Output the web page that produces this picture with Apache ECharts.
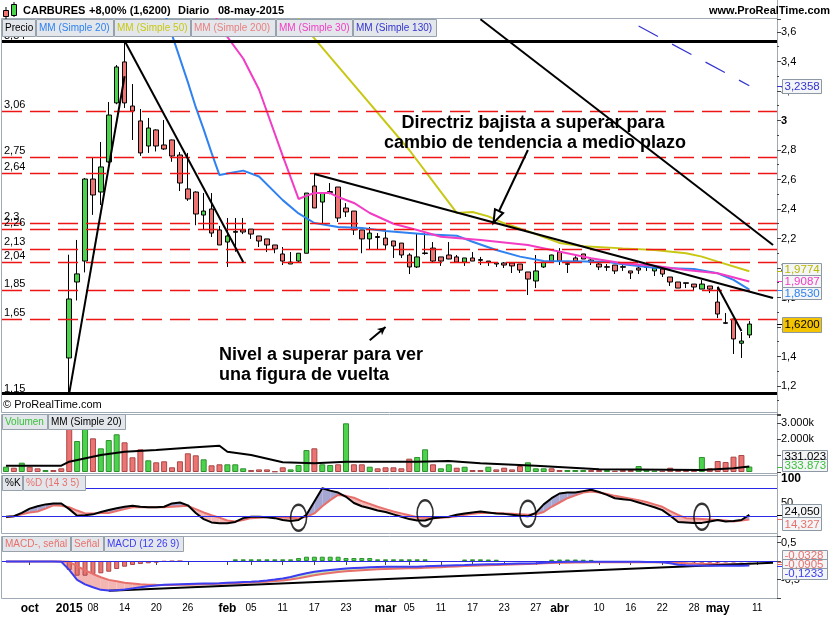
<!DOCTYPE html>
<html><head><meta charset="utf-8">
<script src="https://cdn.jsdelivr.net/npm/echarts@6.0.0/dist/echarts.min.js"></script>
<style>html,body{margin:0;padding:0;background:#fff;}#c{width:835px;height:620px;}</style>
</head><body><div id="c"></div>
<script>
// ---------------- DATA ----------------
const dates = ['2014-09-26','2014-09-29','2014-09-30','2014-10-01','2014-10-02','2014-10-03','2014-10-06','2014-10-07',
'2015-01-02','2015-01-05','2015-01-07','2015-01-08','2015-01-09','2015-01-12','2015-01-13','2015-01-14','2015-01-15','2015-01-16','2015-01-19','2015-01-20','2015-01-21','2015-01-22','2015-01-23','2015-01-26','2015-01-27','2015-01-28','2015-01-29','2015-01-30',
'2015-02-02','2015-02-03','2015-02-04','2015-02-05','2015-02-06','2015-02-09','2015-02-10','2015-02-11','2015-02-12','2015-02-13','2015-02-16','2015-02-17','2015-02-18','2015-02-19','2015-02-20','2015-02-23','2015-02-24','2015-02-25','2015-02-26','2015-02-27',
'2015-03-02','2015-03-03','2015-03-04','2015-03-05','2015-03-06','2015-03-09','2015-03-10','2015-03-11','2015-03-12','2015-03-13','2015-03-16','2015-03-17','2015-03-18','2015-03-19','2015-03-20','2015-03-23','2015-03-24','2015-03-25','2015-03-26','2015-03-27','2015-03-30','2015-03-31',
'2015-04-01','2015-04-02','2015-04-07','2015-04-08','2015-04-09','2015-04-10','2015-04-13','2015-04-14','2015-04-15','2015-04-16','2015-04-17','2015-04-20','2015-04-21','2015-04-22','2015-04-23','2015-04-24','2015-04-27','2015-04-28','2015-04-29','2015-04-30',
'2015-05-04','2015-05-05','2015-05-06','2015-05-07','2015-05-08','2015-05-11','2015-05-12','2015-05-13'];

const tickLabels = [['2014-10-01','oct',1],['2015-01-02','2015',1],['2015-01-08','08',0],['2015-01-14','14',0],['2015-01-20','20',0],['2015-01-26','26',0],
['2015-02-02','feb',1],['2015-02-05','05',0],['2015-02-11','11',0],['2015-02-17','17',0],['2015-02-23','23',0],
['2015-03-02','mar',1],['2015-03-05','05',0],['2015-03-11','11',0],['2015-03-17','17',0],['2015-03-23','23',0],['2015-03-27','27',0],
['2015-04-01','abr',1],['2015-04-10','10',0],['2015-04-16','16',0],['2015-04-22','22',0],['2015-04-28','28',0],['2015-05-04','may',1],['2015-05-11','11',0]];

// OHLC from 2015-01-02 to 2015-05-08: [open, close, low, high]
const ohlcStart = '2015-01-02';
const ohlc = [
[1.39,1.79,1.15,2.09],[1.905,1.96,1.78,2.19],[2.047,2.603,1.97,2.61],[2.603,2.495,2.36,2.746],[2.515,2.685,2.427,2.854],
[2.719,3.037,2.71,3.125],[3.119,3.363,3.11,3.376],[3.397,3.119,3.085,3.54],[3.098,3.064,2.868,3.247],[2.997,2.78,2.76,3.078],
[2.827,2.949,2.78,3.017],[2.936,2.827,2.79,2.94],[2.834,2.807,2.80,3.003],[2.868,2.759,2.72,2.87],[2.766,2.576,2.522,2.786],
[2.536,2.468,2.455,2.78],[2.515,2.366,2.29,2.52],[2.359,2.386,2.26,2.508],[2.40,2.237,2.21,2.508],[2.258,2.156,2.156,2.285],
[2.176,2.217,2.007,2.339],[2.248,2.242,2.11,2.339],[2.258,2.244,2.23,2.339],[2.264,2.23,2.197,2.264],[2.217,2.183,2.142,2.217],
[2.197,2.156,2.108,2.197],[2.156,2.129,2.10,2.156],[2.095,2.047,2.02,2.142],[2.027,2.04,2.027,2.108],[2.047,2.10,2.034,2.10],
[2.10,2.508,2.10,2.508],[2.556,2.407,2.407,2.644],[2.447,2.508,2.305,2.508],[2.518,2.512,2.50,2.576],[2.549,2.339,2.312,2.549],
[2.407,2.38,2.346,2.44],[2.386,2.258,2.224,2.386],[2.258,2.197,2.10,2.258],[2.197,2.237,2.122,2.278],[2.213,2.207,2.122,2.237],
[2.203,2.156,2.122,2.258],[2.183,2.149,2.068,2.183],[2.169,2.088,2.068,2.169],[2.088,2.007,1.959,2.10],[2.007,2.075,2.0,2.237],
[2.102,2.098,2.09,2.244],[2.135,2.047,2.04,2.176],[2.075,2.047,2.014,2.075],[2.088,2.061,2.06,2.176],[2.075,2.04,2.04,2.088],
[2.04,2.068,2.014,2.068],[2.068,2.047,2.047,2.108],[2.057,2.052,2.02,2.075],[2.047,2.04,2.014,2.047],[2.027,2.034,2.007,2.034],
[2.034,2.02,2.0,2.04],[2.034,2.014,1.966,2.034],[2.027,1.986,1.966,2.027],[1.973,1.925,1.817,1.973],[1.912,1.98,1.864,2.088],
[2.007,2.04,2.0,2.04],[2.047,2.088,2.047,2.09],[2.108,2.047,2.02,2.135],[2.029,2.025,1.966,2.047],[2.068,2.047,2.047,2.08],
[2.095,2.061,2.061,2.095],[2.054,2.04,2.02,2.06],[2.027,2.007,1.986,2.035],[2.009,2.005,1.98,2.027],[2.02,1.98,1.959,2.02],
[2.009,2.005,1.98,2.02],[1.98,1.966,1.925,1.98],[2.0,1.986,1.959,2.027],[2.009,2.005,1.98,2.02],[1.98,2.0,1.946,2.0],
[1.993,1.959,1.939,2.0],[1.939,1.905,1.878,1.939],[1.905,1.864,1.864,1.905],[1.90,1.896,1.864,1.90],[1.891,1.871,1.85,1.891],
[1.857,1.891,1.857,1.918],[1.878,1.857,1.83,1.878],[1.769,1.688,1.661,1.871],[1.629,1.625,1.62,1.695],[1.654,1.519,1.417,1.654],
[1.49,1.505,1.39,1.566],[1.546,1.62,1.525,1.64]];

const ma20 = [['2015-01-20',3.90],['2015-01-21',3.74],['2015-01-22',3.58],['2015-01-26',3.26],['2015-01-27',3.09],['2015-01-28',2.94],['2015-01-29',2.78],['2015-01-30',2.63],['2015-02-02',2.64],['2015-02-04',2.66],['2015-02-06',2.62],['2015-02-11',2.46],['2015-02-13',2.37],['2015-02-17',2.305],['2015-02-20',2.278],['2015-02-25',2.271],['2015-03-02',2.251],['2015-03-09',2.228],['2015-03-13',2.219],['2015-03-17',2.178],['2015-03-20',2.122],['2015-03-25',2.077],['2015-03-30',2.047],['2015-04-13',2.043],['2015-04-15',2.025],['2015-04-21',2.002],['2015-04-28',1.993],['2015-05-04',1.964],['2015-05-06',1.919],['2015-05-08',1.853]];
const ma30 = [['2015-01-29',3.78],['2015-01-30',3.64],['2015-02-04',3.42],['2015-02-06',3.21],['2015-02-11',2.76],['2015-02-13',2.468],['2015-02-16',2.49],['2015-02-17',2.508],['2015-02-19',2.508],['2015-02-20',2.481],['2015-02-24',2.441],['2015-02-26',2.373],['2015-03-03',2.30],['2015-03-06',2.258],['2015-03-11',2.212],['2015-03-18',2.19],['2015-03-26',2.156],['2015-03-31',2.122],['2015-04-09',2.066],['2015-04-15',2.032],['2015-04-21',2.016],['2015-04-27',1.986],['2015-05-04',1.964],['2015-05-08',1.9087]];
const ma50 = [['2015-02-13',3.69],['2015-02-16',3.62],['2015-02-24',3.241],['2015-03-05',2.80],['2015-03-13',2.373],['2015-03-17',2.38],['2015-03-19',2.35],['2015-03-23',2.303],['2015-03-26',2.25],['2015-03-30',2.21],['2015-04-01',2.17],['2015-04-08',2.148],['2015-04-15',2.133],['2015-04-21',2.122],['2015-04-27',2.10],['2015-04-29',2.077],['2015-05-04',2.043],['2015-05-08',1.9774]];
const ma130 = [['2015-04-17',3.64],['2015-05-08',3.2358]];

const volume = [323000,262000,567000,323000,225000,122000,122000,225000,
2665000,1890000,2665000,2055000,1445000,1950000,2300000,1810000,896000,1384000,
713000,591000,652000,286000,652000,1140000,1018000,774000,408000,469000,
469000,469000,225000,122000,160000,160000,40000,286000,160000,427000,
1340000,1445000,469000,427000,469000,2970000,469000,469000,323000,225000,
286000,286000,225000,813000,916000,1384000,469000,225000,469000,262000,
323000,122000,122000,323000,160000,262000,160000,365000,591000,225000,
225000,225000,122000,122000,122000,122000,122000,122000,122000,80000,
122000,122000,365000,160000,80000,80000,262000,122000,122000,122000,
916000,225000,670000,610000,935000,1037000,333873];
const volUp = [1,0,1,0,0,1,0,0, 0,1,1,0,1,1,1,0,0,0, 1,0,0,0,0,0,0,1,0,0, 1,1,1,0,0,0,0,0,1,1,
1,0,1,1,0,1,0,0,1,0, 0,0,0,0,1,1,0,1,1,0, 1,0,0,1,0,0,0,0,1,1, 1,0,0,1,1,1,0,0,1,0, 0,0,1,1,1,0,0,0,0,0, 1,0,0,0,0,0,1];
const volMa20 = [['2014-09-26',384000],['2014-10-07',384000],['2015-01-02',628000],['2015-01-09',1037000],['2015-01-14',1238000],['2015-01-20',1341000],['2015-01-26',1482000],['2015-01-30',1604000],['2015-02-02',1238000],['2015-02-05',1037000],['2015-02-11',591000],['2015-02-17',530000],['2015-02-23',628000],['2015-03-06',628000],['2015-03-12',670000],['2015-03-18',530000],['2015-03-27',384000],['2015-04-10',165000],['2015-04-29',122000],['2015-05-06',226000],['2015-05-08',331023]];

const stochK = [20,21,28,37,42,46,48,48, 36,22,23,25,30,34,38,41,43,41,40,40,41,48,50,44,28,15,8,6,6,9,17,20,20,19,17,13,11,13,24,52,80,75,71,62,49,42,38,33,30,25,20,15,12,12,17,19,20,24,27,29,31,29,27,26,24,22,21,28,46,59,69,71,71,74,77,72,66,59,57,55,50,45,40,34,22,9,8,7,7,10,13,10,11,13,24.05];
const stochD = [19,21,25,29,31,37,44,43, 40,33,27,27,28,28,32,36,40,40,40,40,40,41,42,43,36,29,23,18,12,10,13,17,18,19,19,19,18,17,20,27,42,55,66,64,60,53,47,41,36,31,27,23,19,18,17,18,19,21,24,26,28,28,28,27,26,25,24,25,30,41,50,59,65,71,73,71,68,64,61,58,55,51,46,41,32,24,17,16,15,14,13,12,10,12,14.327];
const stochCircles = [['2015-02-13',17.8],['2015-03-09',27.3],['2015-03-26',26.4],['2015-04-29',20.1]];

const macd = [-0.01,-0.01,-0.01,-0.01,-0.01,-0.01,-0.01,-0.02, -0.24,-0.51,-0.63,-0.71,-0.78,-0.80,-0.79,-0.77,-0.74,-0.71,-0.68,-0.66,-0.645,-0.635,-0.627,-0.62,-0.615,-0.61,-0.606,-0.60,-0.59,-0.58,-0.57,-0.56,-0.545,-0.525,-0.50,-0.47,-0.43,-0.38,-0.33,-0.29,-0.265,-0.24,-0.22,-0.20,-0.19,-0.18,-0.17,-0.16,-0.155,-0.154,-0.154,-0.154,-0.154,-0.145,-0.135,-0.127,-0.12,-0.113,-0.108,-0.10,-0.095,-0.09,-0.085,-0.08,-0.075,-0.07,-0.066,-0.062,-0.05,-0.035,-0.024,-0.019,-0.019,-0.019,-0.019,-0.019,-0.019,-0.019,-0.02,-0.021,-0.022,-0.026,-0.03,-0.034,-0.06,-0.10,-0.115,-0.12,-0.124,-0.127,-0.127,-0.127,-0.127,-0.126,-0.1233];
const signal = [-0.01,-0.01,-0.01,-0.01,-0.01,-0.01,-0.01,-0.01, -0.02,-0.14,-0.25,-0.35,-0.44,-0.51,-0.55,-0.59,-0.61,-0.63,-0.64,-0.645,-0.648,-0.647,-0.645,-0.64,-0.633,-0.626,-0.619,-0.612,-0.605,-0.598,-0.59,-0.58,-0.57,-0.558,-0.543,-0.525,-0.50,-0.465,-0.425,-0.385,-0.35,-0.325,-0.30,-0.28,-0.262,-0.247,-0.235,-0.225,-0.216,-0.21,-0.204,-0.198,-0.193,-0.185,-0.176,-0.166,-0.156,-0.146,-0.137,-0.128,-0.12,-0.113,-0.106,-0.099,-0.092,-0.085,-0.078,-0.071,-0.064,-0.057,-0.05,-0.045,-0.04,-0.037,-0.035,-0.034,-0.033,-0.033,-0.033,-0.033,-0.033,-0.033,-0.033,-0.034,-0.04,-0.05,-0.06,-0.068,-0.074,-0.079,-0.083,-0.086,-0.088,-0.089,-0.0905];
const macdHist = [null,null,null,null,null,null,null,null, -0.243,-0.397,-0.397,-0.352,-0.333,-0.29,-0.216,-0.154,-0.108,-0.082,-0.062,-0.047,-0.019,-0.01,-0.005,null,null,null,null,null,null,
0.046,0.046,0.046,0.046,0.046,0.046,0.046,0.046,0.08,0.116,0.116,0.116,0.116,0.116,0.081,0.081,0.081,0.081,0.046,0.046,0.046,0.046,0.046,0.046,0.046,
null,null,null,null,0.04,0.045,0.045,0.04,0.035,null,null,null,null,null,null,0.035,0.04,0.04,0.04,0.035,0.03,
null,null,null,null,null,null,null,null,null,null,null,-0.035,-0.04,-0.045,-0.045,-0.045,-0.04,-0.04,-0.035,-0.0328];

const levelsRed = [3.06, 2.75, 2.64, 2.3, 2.26, 2.13, 2.04, 1.85, 1.65];
const levelsBlack = [3.54, 1.15];
const trendLines = [['2015-01-02',1.15,'2015-01-14',3.30],['2015-01-14',3.54,'2015-02-04',2.04],['2015-02-17',2.637,'2015-05-13',1.797],['2015-03-18',3.686,'2015-05-13',2.156],['2015-05-04',1.873,'2015-05-07',1.573]];
const arrows = [['2015-03-26',2.80,'2015-03-20',2.346,'emptyTriangle',[9,13]],['2015-02-26',1.51,'2015-03-02',1.60,'arrow',[6,8]]];
const macdTrend = ['2015-01-12',-0.803,'2015-05-13',-0.046];

// ---------------- STYLE ----------------
const FONT = '"Liberation Sans", Arial, sans-serif';
const C = {green:'#4cd34c', red:'#ec7472', greenB:'#2f8f2f', redB:'#a84848', ma20:'#2f82f0', ma50:'#c8c814', ma30:'#f23cc4', ma130:'#3434d0', ma200:'#e88080', salmon:'#e8706c', blue:'#2828e6', macd:'#3c3cf0', border:'#a0aab4'};

const commaNum = v => String(Math.round(v*1000)/1000).replace('.', ',');
const thousands = v => String(Math.round(v)).replace(/\B(?=(\d{3})+(?!\d))/g, '.');
const labelMap = new Map(tickLabels.map(t => [t[0], t]));

const candleData = dates.map((d, i) => {
  const j = i - dates.indexOf(ohlcStart);
  return (j >= 0 && j < ohlc.length) ? ohlc[j] : '-';
});
const volData = volume.map((v, i) => ({value: v, itemStyle: {color: volUp[i] ? C.green : C.red, borderColor: volUp[i] ? C.greenB : C.redB, borderWidth: 1}}));
const histData = macdHist.map(v => v == null ? '-' : {value: v, itemStyle: {color: v >= 0 ? C.green : C.red, borderColor: v >= 0 ? C.greenB : C.redB, borderWidth: 1}});

const markData = [];
levelsRed.forEach(v => markData.push({yAxis: v, lineStyle: {color: '#ee1515', type: [20, 8], width: 1.3},
  label: {show: true, position: 'insideStartTop', formatter: commaNum(v), color: '#000', fontSize: 11, fontFamily: FONT, distance: [2, 1]}}));
levelsBlack.forEach(v => markData.push({yAxis: v, lineStyle: {color: '#000', type: 'solid', width: 3},
  label: {show: true, position: 'insideStartTop', formatter: commaNum(v), color: '#000', fontSize: 11, fontFamily: FONT, distance: [2, -1]}}));
trendLines.forEach(t => markData.push([
  {coord: [t[0], t[1]], lineStyle: {color: '#000', width: 2, type: 'solid'}, label: {show: false}},
  {coord: [t[2], t[3]], lineStyle: {color: '#000', width: 2, type: 'solid'}, label: {show: false}}]));
arrows.forEach(a => markData.push([
  {coord: [a[0], a[1]], symbol: 'none', lineStyle: {color: '#000', width: 2, type: 'solid'}, label: {show: false}},
  {coord: [a[2], a[3]], symbol: a[4], symbolSize: a[5], lineStyle: {color: '#000', width: 2, type: 'solid'}, label: {show: false}}]));

function fillBetween(xi, yi, a, b, posColor, negColor) {
  const idx = [];
  for (let i = 0; i < a.length - 1; i++) if (a[i] != null && b[i] != null && a[i+1] != null && b[i+1] != null) idx.push([i, a[i]]);
  return {
    type: 'custom', xAxisIndex: xi, yAxisIndex: yi, silent: true, z: 1, clip: true,
    encode: {x: 0, y: 1}, data: idx,
    renderItem(params, api) {
      const i = api.value(0);
      const A0 = api.coord([i, a[i]]), A1 = api.coord([i+1, a[i+1]]);
      const B0 = api.coord([i, b[i]]), B1 = api.coord([i+1, b[i+1]]);
      const d0 = a[i] - b[i], d1 = a[i+1] - b[i+1];
      const col = d => d >= 0 ? posColor : negColor;
      const kids = [];
      if (d0 * d1 >= 0) {
        kids.push({type: 'polygon', shape: {points: [A0, A1, B1, B0]}, style: {fill: col(d0 + d1)}});
      } else {
        const t = d0 / (d0 - d1);
        const P = [A0[0] + t * (A1[0] - A0[0]), A0[1] + t * (A1[1] - A0[1])];
        kids.push({type: 'polygon', shape: {points: [A0, P, B0]}, style: {fill: col(d0)}});
        kids.push({type: 'polygon', shape: {points: [P, A1, B1]}, style: {fill: col(d1)}});
      }
      return {type: 'group', children: kids};
    }
  };
}

const gridBase = {left: 2, right: 58, outerBoundsMode: 'none', containLabel: false};
const xBase = {type: 'category', data: dates, boundaryGap: true, axisLine: {show: false}, axisTick: {show: false}, axisLabel: {show: false}, splitLine: {show: false}};
const yLab = {fontSize: 11, color: '#000', fontFamily: FONT, margin: 4, showMaxLabel: true, showMinLabel: true};
const tickStyle = {show: true, length: 4, lineStyle: {color: '#444'}};

const option = {
  animation: false,
  backgroundColor: '#fff',
  textStyle: {fontFamily: FONT},
  grid: [
    Object.assign({top: 19, height: 396.5}, gridBase),
    Object.assign({top: 414, height: 58}, gridBase),
    Object.assign({top: 475, height: 74.9}, gridBase),
    Object.assign({top: 536, height: 62}, gridBase)
  ],
  xAxis: [
    Object.assign({gridIndex: 0}, xBase),
    Object.assign({gridIndex: 1}, xBase),
    Object.assign({gridIndex: 2}, xBase),
    Object.assign({}, xBase, {gridIndex: 3,
      axisTick: {show: true, alignWithLabel: true, length: 4, interval: (i, v) => labelMap.has(v), lineStyle: {color: '#444'}},
      axisLabel: {show: true, interval: (i, v) => labelMap.has(v), margin: 5, fontSize: 10, color: '#000', fontFamily: FONT,
        formatter: v => { const t = labelMap.get(v); if (!t) return ''; return t[2] ? '{m|' + t[1] + '}' : t[1]; },
        rich: {m: {fontWeight: 'bold', fontSize: 12, fontFamily: FONT, color: '#000'}}}
    })
  ],
  yAxis: [
    {gridIndex: 0, type: 'value', position: 'right', min: 1.0, max: 3.688, interval: 0.2, splitLine: {show: false}, axisLine: {show: false},
      axisTick: tickStyle, minorTick: {show: true, splitNumber: 2, length: 2, lineStyle: {color: '#444'}},
      axisLabel: Object.assign({}, yLab, {formatter: v => {
        if (Math.abs(v * 5 - Math.round(v * 5)) > 1e-6 || v < 1.1) return '';
        const r = Math.round(v * 10) / 10;
        return Number.isInteger(r) ? '{b|' + r + '}' : String(r).replace('.', ',');
      }, rich: {b: {fontWeight: 'bold', fontSize: 11, fontFamily: FONT, color: '#000'}}})},
    {gridIndex: 1, type: 'value', position: 'right', min: 0, max: 3537000, interval: 1000000, splitLine: {show: false}, axisLine: {show: false},
      axisTick: tickStyle,
      axisLabel: Object.assign({}, yLab, {formatter: v => (v === 3000000 || v === 2000000) ? thousands(v / 1000) + 'k' : ''})},
    {gridIndex: 2, type: 'value', position: 'right', min: -50, max: 108, interval: 50, splitLine: {show: false}, axisLine: {show: false},
      axisTick: {show: false},
      axisLabel: Object.assign({}, yLab, {formatter: v => v === 100 ? '{b|100}' : (v === 50 ? '50' : ''),
        rich: {b: {fontWeight: 'bold', fontSize: 12, fontFamily: FONT, color: '#000'}}})},
    {gridIndex: 3, type: 'value', position: 'right', min: -1.0, max: 0.676, interval: 0.5, splitLine: {show: false}, axisLine: {show: false},
      axisTick: tickStyle,
      axisLabel: Object.assign({}, yLab, {formatter: v => Math.abs(v - 0.5) < 1e-6 ? '0,5' : (Math.abs(v + 0.5) < 1e-6 ? '-0,5' : '')})}
  ],
  series: [
    {type: 'candlestick', name: 'Precio', xAxisIndex: 0, yAxisIndex: 0, data: candleData, barWidth: 5, z: 3,
      itemStyle: {color: C.green, color0: C.red, borderColor: '#000', borderColor0: '#000', borderWidth: 1},
      markLine: {silent: true, symbol: ['none', 'none'], animation: false, data: markData}},
    {type: 'line', name: 'MM20', xAxisIndex: 0, yAxisIndex: 0, data: ma20, showSymbol: false, connectNulls: true, z: 4, lineStyle: {color: C.ma20, width: 2}},
    {type: 'line', name: 'MM50', xAxisIndex: 0, yAxisIndex: 0, data: ma50, showSymbol: false, connectNulls: true, z: 4, lineStyle: {color: C.ma50, width: 2}},
    {type: 'line', name: 'MM30', xAxisIndex: 0, yAxisIndex: 0, data: ma30, showSymbol: false, connectNulls: true, z: 4, lineStyle: {color: C.ma30, width: 2}},
    {type: 'line', name: 'MM130', xAxisIndex: 0, yAxisIndex: 0, data: ma130, showSymbol: false, connectNulls: true, z: 4, lineStyle: {color: C.ma130, width: 1.2, type: [22, 16]}},
    {type: 'bar', name: 'Volumen', xAxisIndex: 1, yAxisIndex: 1, data: volData, barWidth: 6, z: 2},
    {type: 'line', name: 'VolMM20', xAxisIndex: 1, yAxisIndex: 1, data: volMa20, showSymbol: false, z: 4, lineStyle: {color: '#000', width: 2}},
    fillBetween(2, 2, stochK, stochD, '#a6a6d2', '#f5b9b6'),
    {type: 'line', name: '%D', xAxisIndex: 2, yAxisIndex: 2, data: stochD, showSymbol: false, z: 3, lineStyle: {color: C.salmon, width: 2},
      markLine: {silent: true, symbol: ['none', 'none'], label: {show: false}, data: [{yAxis: 80}, {yAxis: 20}], lineStyle: {color: C.blue, width: 1, type: 'solid'}}},
    {type: 'line', name: '%K', xAxisIndex: 2, yAxisIndex: 2, data: stochK, showSymbol: false, z: 4, lineStyle: {color: '#000', width: 2}},
    {type: 'scatter', xAxisIndex: 2, yAxisIndex: 2, data: stochCircles, symbol: 'circle', symbolSize: [16, 26], z: 6, silent: true,
      itemStyle: {color: 'rgba(0,0,0,0)', borderColor: '#000', borderWidth: 2}},
    fillBetween(3, 3, macd, signal, '#bfe7b8', '#f4b6b2'),
    {type: 'bar', name: 'MACD-, señal', xAxisIndex: 3, yAxisIndex: 3, data: histData, barWidth: 5, z: 3},
    {type: 'line', name: 'Señal', xAxisIndex: 3, yAxisIndex: 3, data: signal, showSymbol: false, z: 4, lineStyle: {color: C.salmon, width: 2}},
    {type: 'line', name: 'MACD', xAxisIndex: 3, yAxisIndex: 3, data: macd, showSymbol: false, z: 5, lineStyle: {color: C.macd, width: 2},
      markLine: {silent: true, symbol: ['none', 'none'], label: {show: false}, data: [
        {yAxis: 0, lineStyle: {color: C.blue, width: 1, type: 'solid'}},
        [{coord: [macdTrend[0], macdTrend[1]], lineStyle: {color: '#000', width: 2, type: 'solid'}}, {coord: [macdTrend[2], macdTrend[3]]}]
      ]}}
  ]
};

const chart = echarts.init(document.getElementById('c'), null, {renderer: 'canvas'});
chart.setOption(option);

// ---------------- GRAPHICS (frame, header, legends, value boxes, annotations) ----------------
const G = [];
const txt = (x, y, text, opt) => G.push(Object.assign({type: 'text', x, y, z: 100, style: Object.assign({text, font: '11px ' + FONT, fill: '#000', verticalAlign: 'middle'}, opt || {})}));
// panel frames
[[18, 412], [414, 473], [475, 533], [536, 598]].forEach(p => G.push({type: 'rect', z: 0, shape: {x: 1.5, y: p[0] + 0.5, width: 776, height: p[1] - p[0]}, style: {fill: 'none', stroke: C.border, lineWidth: 1}}));
G.push({type: 'line', z: 0, shape: {x1: 777.5, y1: 0, x2: 777.5, y2: 598}, style: {stroke: C.border, lineWidth: 1}});
// header icon
G.push({type: 'line', z: 100, shape: {x1: 6, y1: 7, x2: 6, y2: 19}, style: {stroke: '#000', lineWidth: 1}});
G.push({type: 'rect', z: 101, shape: {x: 3.5, y: 10.5, width: 5, height: 6}, style: {fill: C.red, stroke: '#000', lineWidth: 1}});
G.push({type: 'line', z: 100, shape: {x1: 14, y1: 2, x2: 14, y2: 17}, style: {stroke: '#000', lineWidth: 1}});
G.push({type: 'rect', z: 101, shape: {x: 11.5, y: 4.5, width: 5, height: 11}, style: {fill: C.green, stroke: '#000', lineWidth: 1}});
const HB = 'bold 11px ' + FONT;
txt(23, 11, 'CARBURES', {font: HB});
txt(89, 11, '+8,00% (1,6200)', {font: HB});
txt(178, 11, 'Diario', {font: HB});
txt(218, 11, '08-may-2015', {font: HB});
txt(830, 11, 'www.ProRealTime.com', {font: HB, align: 'right'});
// legend boxes
function legendRow(y1, y2, items) {
  items.forEach(it => {
    G.push({type: 'rect', z: 100, shape: {x: it[0] + 0.5, y: y1 + 0.5, width: it[1] - it[0], height: y2 - y1}, style: {fill: '#e3e7eb', stroke: '#97a1ab', lineWidth: 1}});
    txt(it[0] + 3, (y1 + y2) / 2 + 0.5, it[2], {fill: it[3], font: '10px ' + FONT});
  });
}
legendRow(19, 36, [[2, 35, 'Precio', '#000'], [36, 113, 'MM (Simple 20)', C.ma20], [114, 190, 'MM (Simple 50)', C.ma50], [191, 275, 'MM (Simple 200)', C.ma200], [276, 352, 'MM (Simple 30)', C.ma30], [353, 436, 'MM (Simple 130)', C.ma130]]);
legendRow(414, 429, [[2, 47, 'Volumen', '#3cc03c'], [48, 125, 'MM (Simple 20)', '#000']]);
legendRow(475, 490, [[2, 22, '%K', '#000'], [23, 85, '%D (14 3 5)', C.salmon]]);
legendRow(536, 551, [[2, 70, 'MACD-, señal', C.salmon], [71, 103, 'Señal', C.salmon], [104, 183, 'MACD (12 26 9)', C.macd]]);
// copyright
txt(3, 405, '© ProRealTime.com', {font: '11px ' + FONT});
// annotations
const AB = 'bold 18px ' + FONT;
txt(533, 123, 'Directriz bajista a superar para', {font: AB, align: 'center'});
txt(535, 143, 'cambio de tendencia a medio plazo', {font: AB, align: 'center'});
txt(219, 355, 'Nivel a superar para ver', {font: AB});
txt(219, 375, 'una figura de vuelta', {font: AB});

// value boxes on right axes (sp = spacing between box centres, h = box height)
function valueBoxes(yAxisIndex, items, sp, h, lo, hi, keepOrder) {
  items.forEach(it => { it.y = chart.convertToPixel({yAxisIndex}, it.v); it.y0 = it.y; });
  const arr = items.slice();
  const cmp = keepOrder ? ((a, b) => a.o - b.o) : ((a, b) => a.y - b.y || a.o - b.o);
  for (let k = 0; k < 200; k++) {
    let moved = false;
    arr.sort(cmp);
    for (let i = 1; i < arr.length; i++) {
      const ov = arr[i-1].y + sp - arr[i].y;
      if (ov > 0.05) { arr[i-1].y -= ov / 2; arr[i].y += ov / 2; moved = true; }
    }
    if (!moved) break;
  }
  const lastB = arr[arr.length - 1];
  if (lastB.y + h / 2 > hi) { const d = lastB.y + h / 2 - hi; arr.forEach(o => o.y -= d); }
  if (arr[0].y - h / 2 < lo) { const d = lo - (arr[0].y - h / 2); arr.forEach(o => o.y += d); }
  items.forEach(it => {
    const w = Math.round(it.t.length * 5.8 + 4);
    G.push({type: 'line', z: 110, shape: {x1: 777, y1: Math.round(it.y0) + 0.5, x2: 782, y2: Math.round(it.y0) + 0.5}, style: {stroke: it.c, lineWidth: 1}});
    G.push({type: 'rect', z: 110, shape: {x: 782.5, y: Math.round(it.y - h / 2) + 0.5, width: w, height: h}, style: {fill: it.bg || '#f3f5f7', stroke: '#8c98a4', lineWidth: 1}});
    txt(784.5, Math.round(it.y) + 1, it.t, {fill: it.c, font: '11.5px ' + FONT});
    G[G.length - 1].z = 111;
  });
}
const last = a => { const v = a[a.length - 1]; return Array.isArray(v) ? v[1] : v; };
const f4 = v => v.toFixed(4).replace('.', ',');
valueBoxes(0, [{v: last(ma130), t: f4(last(ma130)), c: C.ma130, o: 0}], 14, 14, 19, 412);
valueBoxes(0, [{v: last(ma50), t: f4(last(ma50)), c: '#b8b800', o: 0}, {v: last(ma30), t: f4(last(ma30)), c: C.ma30, o: 1}, {v: last(ma20), t: f4(last(ma20)), c: C.ma20, o: 2}], 12, 12, 19, 412);
valueBoxes(0, [{v: ohlc[ohlc.length - 1][1], t: f4(ohlc[ohlc.length - 1][1]), c: '#000', bg: '#f5c400', o: 0}], 15, 15, 19, 412);
valueBoxes(1, [{v: last(volMa20), t: thousands(last(volMa20)), c: '#000', o: 0}, {v: last(volume), t: thousands(last(volume)), c: '#3cc03c', o: 1}], 9, 12, 414, 471, true);
valueBoxes(2, [{v: last(stochK), t: last(stochK).toFixed(3).replace('.', ','), c: '#000', o: 0}, {v: last(stochD), t: last(stochD).toFixed(3).replace('.', ','), c: C.salmon, o: 1}], 13, 13, 476, 532);
valueBoxes(3, [{v: last(macdHist), t: f4(last(macdHist)), c: C.salmon, o: 0}, {v: last(signal), t: f4(last(signal)), c: C.salmon, o: 1}, {v: last(macd), t: f4(last(macd)), c: C.macd, o: 2}], 9, 11, 537, 597);

chart.setOption({graphic: {elements: G}});
</script></body></html>
